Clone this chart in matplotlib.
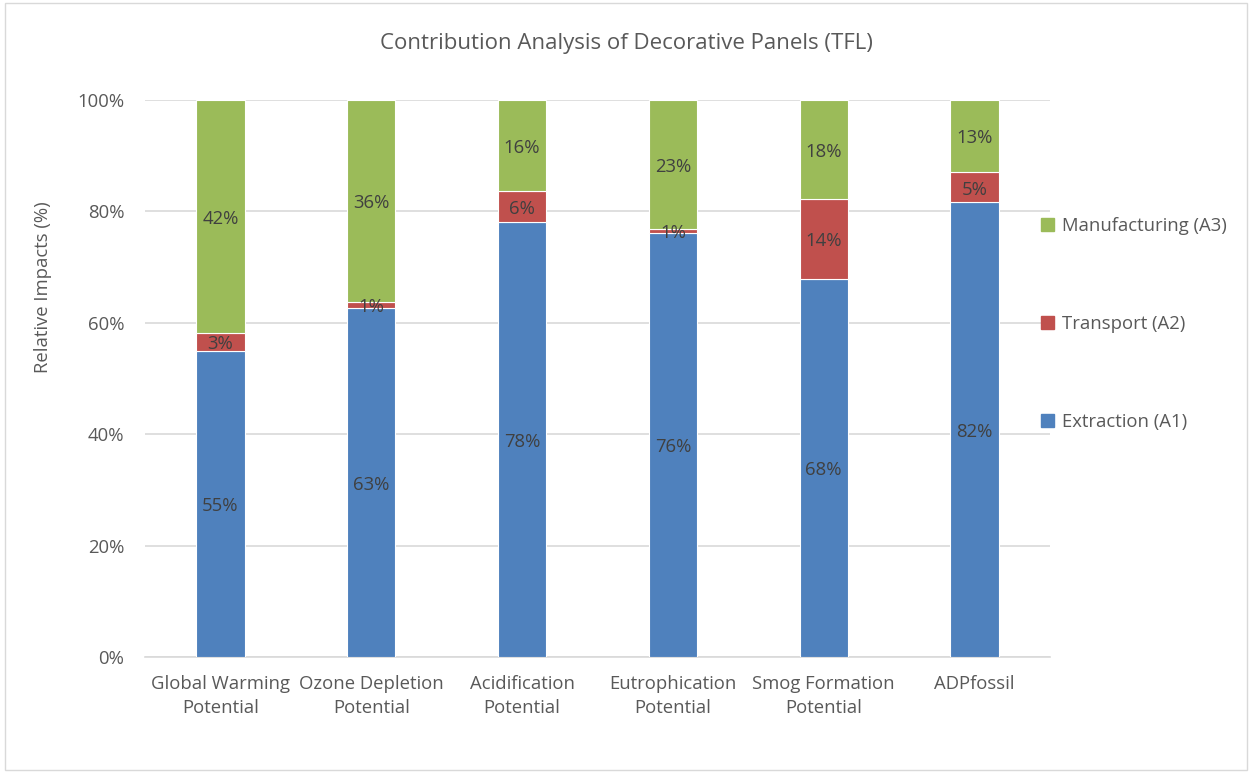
import numpy as np
import matplotlib.pyplot as plt
from matplotlib.patches import Patch, Rectangle

# Contribution shares (%)
categories = ["Global Warming\nPotential", "Ozone Depletion\nPotential", "Acidification\nPotential",
              "Eutrophication\nPotential", "Smog Formation\nPotential", "ADPfossil"]
extraction = [55.0, 62.6, 78.1, 76.1, 67.9, 81.6]
transport = [3.2, 1.1, 5.6, 0.7, 14.3, 5.4]
manufacturing = [41.8, 36.3, 16.3, 23.2, 17.8, 13.0]

series = [("Extraction (A1)", extraction, "#4f81bd"),
          ("Transport (A2)", transport, "#c0504d"),
          ("Manufacturing (A3)", manufacturing, "#9bbb59")]

plt.rcParams['font.family'] = ['Open Sans', 'DejaVu Sans']
txt = "#595959"
fs = 13.3

fig = plt.figure(figsize=(12.52, 7.73), dpi=100)
ax = fig.add_axes([145 / 1252, 1 - 657 / 773, 905 / 1252, 557 / 773])

x = np.arange(len(categories))
bottom = np.zeros(len(categories))
handles = []
for name, vals, col in series:
    vals = np.array(vals)
    ax.bar(x, vals, 0.32, bottom=bottom, color=col, edgecolor="white", linewidth=0.8, zorder=3)
    for xi, b, v in zip(x, bottom, vals):
        ax.text(xi, b + v / 2 - 0.4, f"{v:.0f}%", ha="center", va="center", fontsize=fs,
                color="#404040", zorder=4)
    bottom += vals
    handles.append(Patch(color=col, label=name))

ax.set_xlim(-0.5, len(categories) - 0.5)
ax.set_ylim(0, 100)
ax.set_yticks(np.arange(0, 101, 20))
ax.set_yticklabels([f"{v}%" for v in range(0, 101, 20)])
ax.set_xticks(x)
ax.set_xticklabels(categories, linespacing=1.45)
ax.tick_params(axis="both", length=0, colors=txt, labelsize=fs)
ax.tick_params(axis="y", pad=15)
ax.tick_params(axis="x", pad=13)
ax.grid(axis="y", color="#d9d9d9", linewidth=1.2, zorder=0)
for s in ["top", "right", "left"]:
    ax.spines[s].set_visible(False)
ax.spines["bottom"].set_color("#d9d9d9")
ax.spines["bottom"].set_linewidth(1.2)

ax.set_ylabel("Relative Impacts (%)", color=txt, fontsize=fs)
ax.yaxis.set_label_coords((52 - 145) / 905, 0.664)
fig.text(0.5, 1 - 43 / 773, "Contribution Analysis of Decorative Panels (TFL)",
         ha="center", va="center", color=txt, fontsize=16)

leg = ax.legend(handles=handles[::-1], loc="center left", bbox_to_anchor=(0.972, 0.598),
                frameon=False, fontsize=fs, labelspacing=4.35, handlelength=0.7,
                handleheight=0.7, handletextpad=0.4, labelcolor=txt)

fig.patches.append(Rectangle((0.004, 0.004), 0.992, 0.992, transform=fig.transFigure,
                             fill=False, edgecolor="#d9d9d9", linewidth=1))

fig.savefig("out.png", dpi=100)
